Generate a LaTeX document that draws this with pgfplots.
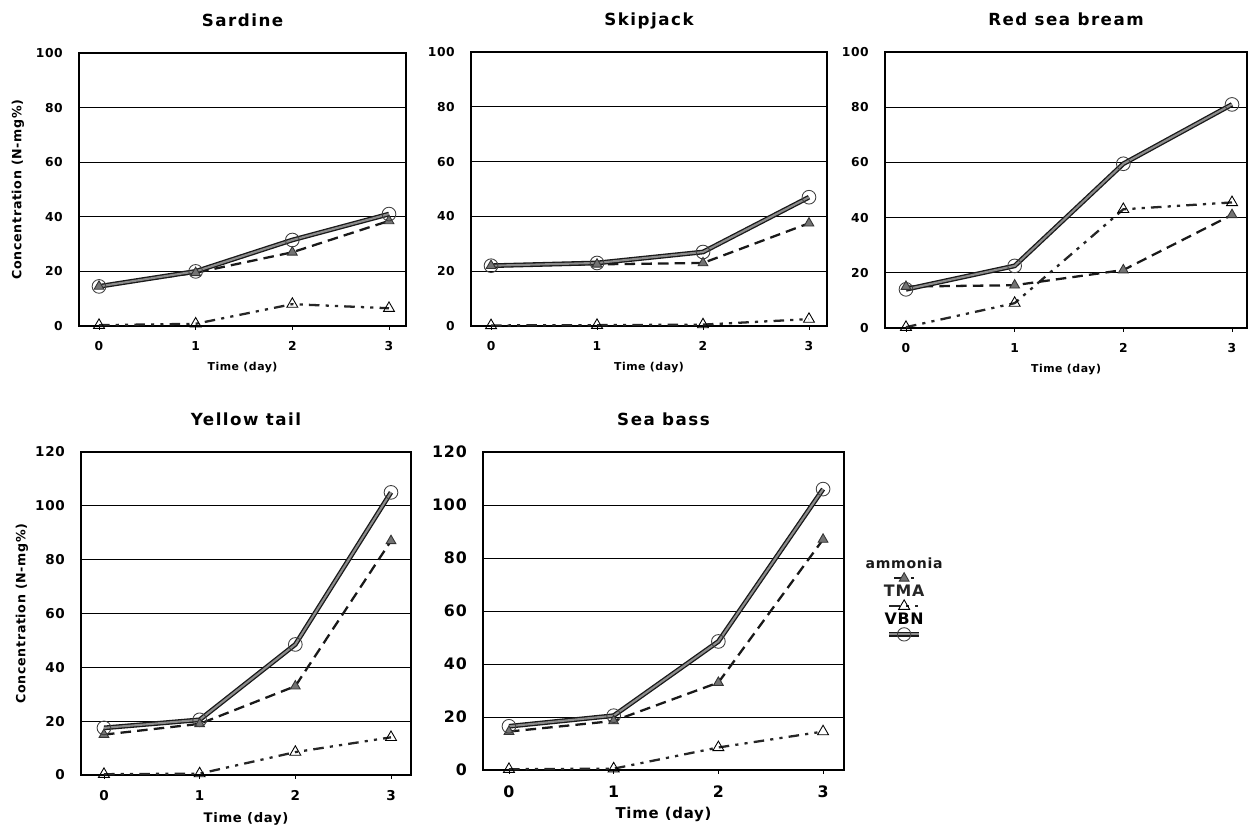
\documentclass[border=0pt]{standalone}
\usepackage{fontspec}
\setmainfont{DejaVu Sans}
\newfontfamily\tfont[LetterSpace=9]{DejaVu Sans}
\newfontfamily\lfont[LetterSpace=5]{DejaVu Sans}
\usepackage{pgfplots}
\pgfplotsset{compat=1.18}
\usepackage{pgfplotstable}

\pgfplotstableread{
t amm tma vbn
0 14.5 0.3 14.5
1 19.5 0.8 20
2 27 8 31.5
3 38.5 6.5 41
}\sardine
\pgfplotstableread{
t amm tma vbn
0 22 0.2 22
1 22.5 0.3 23
2 23 0.5 27
3 37.5 2.5 47
}\skipjack
\pgfplotstableread{
t amm tma vbn
0 15 0.3 14
1 15.5 9 22.5
2 21 43 59.5
3 41 45.5 81
}\redsea
\pgfplotstableread{
t amm tma vbn
0 15 0.3 17.5
1 19 0.5 20.5
2 33 8.5 48.5
3 87 14 105
}\yellow
\pgfplotstableread{
t amm tma vbn
0 14.5 0.3 16.5
1 18.5 0.5 20.5
2 33 8.5 48.5
3 87 14.5 106
}\seabass

\pgfplotsset{
  fishbase/.style={
    scale only axis,
    axis line style={black, line width=0.6pt},
    ymajorgrids, grid style={black, line width=0.5pt},
    xtick={0,1,2,3},
    ytick style={draw=none},
    xtick pos=lower, tick align=outside,
    xtick style={black, line width=0.5pt},
    major tick length=0.08cm,
    /pgf/number format/assume math mode=true,
    /pgf/number format/1000 sep={},
    clip=false,
    yticklabel style={xshift=-0.12cm},
    title style={anchor=base, at={(0.5,1)}, yshift=0.32cm,
      font=\tfont\bfseries\fontsize{9.5}{11}\selectfont},
  },
  amm/.style={black!90, line width=1.3pt, dash pattern=on 6pt off 3.5pt,
    mark=triangle*, mark size=3.2pt,
    mark options={solid, fill=black!55, draw=black!80, line width=0.5pt}},
  tma/.style={black!85, line width=1.3pt, dash pattern=on 6pt off 3.5pt on 1.8pt off 3.5pt on 1.8pt off 3.5pt,
    mark=triangle, mark size=3.6pt,
    mark options={solid, draw=black, fill=white, line width=0.5pt}},
  vbnline/.style={mark=none, solid, draw=black!90, line width=0.75pt,
    double=black!45, double distance=1.2pt},
  vbnmark/.style={only marks, mark=o, mark size=3.9pt,
    mark options={solid, draw=black!75, line width=0.5pt}},
  ammleg/.style={legend image code/.code={
    \node[anchor=base, inner sep=0pt, font=\lfont\bfseries\fontsize{8}{9}\selectfont] at (0.3cm,0.2cm) {ammonia};
    \draw[##1, mark repeat=2, mark phase=2] plot coordinates {(0.1cm,0cm)(0.3cm,0cm)(0.5cm,0cm)};
  }},
  tmaleg/.style={legend image code/.code={
    \node[anchor=base, inner sep=0pt, font=\lfont\bfseries\fontsize{9}{10}\selectfont] at (0.3cm,0.2cm) {TMA};
    \draw[##1, mark repeat=2, mark phase=2] plot coordinates {(0cm,0cm)(0.3cm,0cm)(0.6cm,0cm)};
  }},
  vbnleg/.style={legend image code/.code={
    \node[anchor=base, inner sep=0pt, font=\lfont\bfseries\fontsize{9}{10}\selectfont] at (0.3cm,0.2cm) {VBN};
    \draw[##1] plot coordinates {(0cm,0cm)(0.6cm,0cm)};
    \draw[black!75, line width=0.5pt] plot[mark=o, mark size=3.8pt] coordinates {(0.3cm,0cm)};
  }},
}

\begin{document}
\begin{tikzpicture}
\useasboundingbox (0,0) rectangle (25,16.64);

% Sardine
\begin{axis}[fishbase, at={(1.58cm,10.12cm)}, anchor=south west,
  width=6.54cm, height=5.46cm, xmin=-0.207, xmax=3.176, ymin=0, ymax=100,
  ytick={0,20,...,100}, title={Sardine},
  ticklabel style={font=\lfont\bfseries\fontsize{7}{8}\selectfont},
  xticklabel style={yshift=-0.1cm},
  xlabel={Time (day)}, xlabel style={at={(axis description cs:0.5,0)}, anchor=base, yshift=-0.9cm, font=\lfont\bfseries\fontsize{6.2}{7}\selectfont},
  ylabel={Concentration (N-mg\%)}, ylabel style={at={(axis description cs:-0.187,0.5)}, anchor=center, font=\lfont\bfseries\fontsize{7.2}{8}\selectfont},
]
\addplot[tma] table[x=t,y=tma]{\sardine};
\addplot[amm] table[x=t,y=amm]{\sardine};
\addplot[vbnline] table[x=t,y=vbn]{\sardine};
\addplot[vbnmark] table[x=t,y=vbn]{\sardine};
\end{axis}

% Skipjack
\begin{axis}[fishbase, at={(9.42cm,10.12cm)}, anchor=south west,
  width=7.12cm, height=5.48cm, xmin=-0.189, xmax=3.17, ymin=0, ymax=100,
  ytick={0,20,...,100}, title={Skipjack},
  ticklabel style={font=\lfont\bfseries\fontsize{7}{8}\selectfont},
  xticklabel style={yshift=-0.1cm},
  xlabel={Time (day)}, xlabel style={at={(axis description cs:0.5,0)}, anchor=base, yshift=-0.9cm, font=\lfont\bfseries\fontsize{6.2}{7}\selectfont},
]
\addplot[tma] table[x=t,y=tma]{\skipjack};
\addplot[amm] table[x=t,y=amm]{\skipjack};
\addplot[vbnline] table[x=t,y=vbn]{\skipjack};
\addplot[vbnmark] table[x=t,y=vbn]{\skipjack};
\end{axis}

% Red sea bream
\begin{axis}[fishbase, at={(17.7cm,10.08cm)}, anchor=south west,
  width=7.24cm, height=5.52cm, xmin=-0.193, xmax=3.138, ymin=0, ymax=100,
  ytick={0,20,...,100}, title={Red sea bream},
  ticklabel style={font=\lfont\bfseries\fontsize{7}{8}\selectfont},
  xticklabel style={yshift=-0.1cm},
  xlabel={Time (day)}, xlabel style={at={(axis description cs:0.5,0)}, anchor=base, yshift=-0.9cm, font=\lfont\bfseries\fontsize{6.2}{7}\selectfont},
]
\addplot[tma] table[x=t,y=tma]{\redsea};
\addplot[amm] table[x=t,y=amm]{\redsea};
\addplot[vbnline] table[x=t,y=vbn]{\redsea};
\addplot[vbnmark] table[x=t,y=vbn]{\redsea};
\end{axis}

% Yellow tail
\begin{axis}[fishbase, at={(1.62cm,1.14cm)}, anchor=south west,
  width=6.6cm, height=6.46cm, xmin=-0.24, xmax=3.209, ymin=0, ymax=120,
  ytick={0,20,...,120}, title={Yellow tail},
  ticklabel style={font=\lfont\bfseries\fontsize{7.7}{9}\selectfont},
  xticklabel style={yshift=-0.1cm},
  xlabel={Time (day)}, xlabel style={at={(axis description cs:0.5,0)}, anchor=base, yshift=-0.96cm, font=\lfont\bfseries\fontsize{7.5}{9}\selectfont},
  ylabel={Concentration (N-mg\%)}, ylabel style={at={(axis description cs:-0.179,0.5)}, anchor=center, font=\lfont\bfseries\fontsize{7.2}{8}\selectfont},
]
\addplot[tma] table[x=t,y=tma]{\yellow};
\addplot[amm] table[x=t,y=amm]{\yellow};
\addplot[vbnline] table[x=t,y=vbn]{\yellow};
\addplot[vbnmark] table[x=t,y=vbn]{\yellow};
\end{axis}

% Sea bass
\begin{axis}[fishbase, at={(9.66cm,1.24cm)}, anchor=south west,
  width=7.22cm, height=6.36cm, xmin=-0.248, xmax=3.20, ymin=0, ymax=120,
  ytick={0,20,...,120}, title={Sea bass},
  ticklabel style={font=\lfont\bfseries\fontsize{9}{10}\selectfont},
  xticklabel style={yshift=-0.12cm},
  xlabel={Time (day)}, xlabel style={at={(axis description cs:0.5,0)}, anchor=base, yshift=-0.98cm, font=\lfont\bfseries\fontsize{8.5}{10}\selectfont},
  legend style={at={(axis description cs:1.169,0.68)}, anchor=north, draw=none, fill=none, row sep=2pt, nodes={inner sep=0pt}},
]
\addplot[amm, ammleg] table[x=t,y=amm]{\seabass};
\addlegendentry{\hbox{}}
\addplot[tma, tmaleg] table[x=t,y=tma]{\seabass};
\addlegendentry{\hbox{}}
\addplot[vbnline, vbnleg] table[x=t,y=vbn]{\seabass};
\addlegendentry{\hbox{}}
\addplot[vbnmark, forget plot] table[x=t,y=vbn]{\seabass};
\end{axis}

\end{tikzpicture}
\end{document}
